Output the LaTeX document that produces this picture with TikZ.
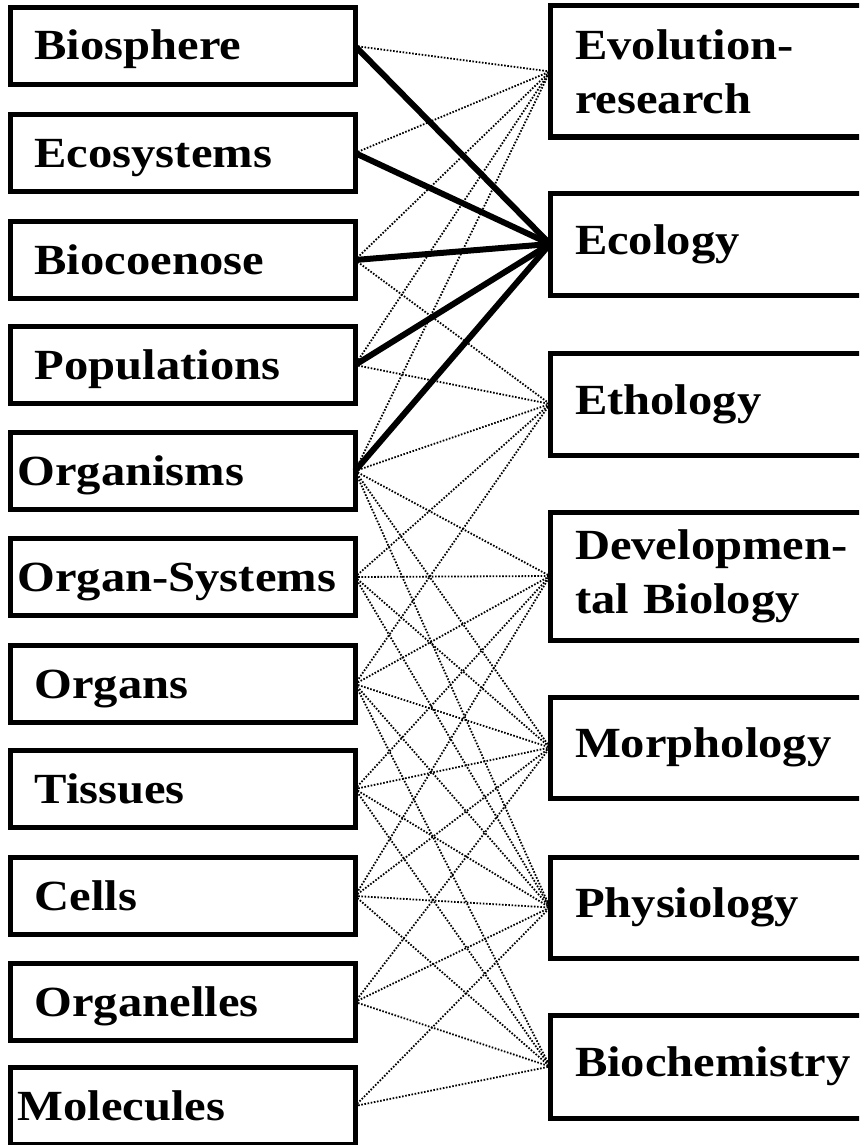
\documentclass[tikz,border=0pt]{standalone}
\usepackage{fontspec}
\setmainfont{Liberation Serif}[FakeStretch=1.13]

\begin{document}
\begin{tikzpicture}[x=1pt, y=-1pt,
  box/.style={draw, line width=5pt, inner sep=0pt, outer sep=0pt, align=left,
    font=\fontsize{43}{54}\selectfont\bfseries},
  lbox/.style={box, minimum width=345pt, minimum height=77pt, text width=296pt,
    text height=28pt, text depth=0pt},
  wide/.style={text width=330pt},
  rbox/.style={box, anchor=north west, minimum width=340pt, text width=290pt},
  weak/.style={line width=1.8pt, dash pattern=on 1.6pt off 1.6pt},
  strong/.style={line width=6pt}]
  \useasboundingbox (0,0) rectangle (859,1145);
  \clip (0,0) rectangle (859,1145);

  % 組織化のレベル (左の列)
  \node[lbox] (biosphere)   at (182.5,46)   {Biosphere};
  \node[lbox] (ecosystems)  at (182.5,153)  {Ecosystems};
  \node[lbox] (biocoenose)  at (182.5,260)  {Biocoenose};
  \node[lbox] (populations) at (182.5,365)  {Populations};
  \node[lbox, wide] (organisms) at (182.5,471) {Organisms};
  \node[lbox, wide] (organsys)  at (182.5,577) {Organ-Systems};
  \node[lbox] (organs)      at (182.5,684)  {Organs};
  \node[lbox] (tissues)     at (182.5,789)  {Tissues};
  \node[lbox] (cells)       at (182.5,896)  {Cells};
  \node[lbox] (organelles)  at (182.5,1002) {Organelles};
  \node[lbox, wide] (molecules) at (182.5,1106) {Molecules};

  % 生物学の分野 (右の列)
  \node[rbox, minimum height=131pt] (evolution)  at (550,6)    {Evolution-\\research};
  \node[rbox, minimum height=102pt] (ecology)    at (550,193)  {Ecology};
  \node[rbox, minimum height=102pt] (ethology)   at (550,353)  {Ethology};
  \node[rbox, minimum height=128pt] (devbio)     at (550,512)  {Developmen-\\tal Biology};
  \node[rbox, minimum height=101pt] (morphology) at (550,697)  {Morphology};
  \node[rbox, minimum height=101pt] (physiology) at (550,857)  {Physiology};
  \node[rbox, minimum height=103pt] (biochem)    at (550,1015) {Biochemistry};

  % 点線の対応
  \foreach \s in {biosphere,ecosystems,biocoenose,populations,organisms}
    \draw[weak] (\s.east) -- (evolution.west);
  \foreach \s in {biocoenose,populations,organisms,organsys,organs}
    \draw[weak] (\s.east) -- (ethology.west);
  \foreach \s in {organisms,organsys,organs,tissues,cells}
    \draw[weak] (\s.east) -- (devbio.west);
  \foreach \s in {organisms,organsys,organs,tissues,cells,organelles}
    \draw[weak] (\s.east) -- (morphology.west);
  \foreach \s in {organisms,organsys,organs,tissues,cells,organelles,molecules}
    \draw[weak] (\s.east) -- (physiology.west);
  \foreach \s in {organs,tissues,cells,organelles,molecules}
    \draw[weak] (\s.east) -- (biochem.west);

  % 生態学への太線
  \foreach \s in {biosphere,ecosystems,biocoenose,populations,organisms}
    \draw[strong] (\s.east) -- (ecology.west);
\end{tikzpicture}
\end{document}
